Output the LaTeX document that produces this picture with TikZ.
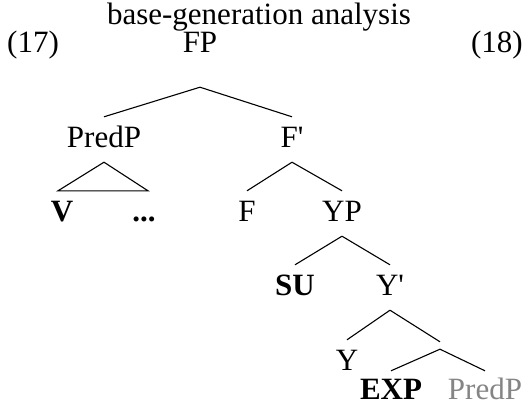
\documentclass[tikz,border=0pt]{standalone}
\usepackage{fontspec}
\setmainfont{Liberation Serif}
\tikzset{
	tn/.style={anchor=base, font=\fontsize{31}{37}\selectfont, text height=21pt, text depth=6pt, inner xsep=0pt, inner ysep=9pt},
	tb/.style={tn, font=\fontsize{31}{37}\selectfont\bfseries},
	leaf/.style={text height=28pt, text depth=0pt, inner ysep=0pt},
	branch/.style={line width=1.1pt}
}
\begin{document}
\begin{tikzpicture}[x=1pt, y=-1pt]
	\useasboundingbox (0, 0) rectangle (528, 407);
	\draw node[anchor=base, inner sep=0pt, font=\fontsize{31}{37}\selectfont] at (259, 24) (title) {base-generation analysis};
	\draw node[tn, anchor=base west] at (7, 52) (ex17) {(17)};
	\draw node[tn, anchor=base east] at (523, 52) (ex18) {(18)};
	\draw node[tn, text depth=26pt] at (200, 52) (fp) {FP};
	\draw node[tn] at (104, 147) (predp) {PredP};
	\draw node[tn] at (292, 147) (fbar) {F\textquotesingle};
	\draw node[tb] at (62, 221) (v) {V};
	\draw node[tb] at (144, 221) (dots) {...};
	\draw node[tn] at (247, 221) (f) {F};
	\draw node[tn] at (342, 221) (yp) {YP};
	\draw node[tb] at (295, 295) (su) {SU};
	\draw node[tn] at (390, 295) (ybar) {Y\textquotesingle};
	\draw node[tn] at (347, 370) (y) {Y};
	\draw node[inner sep=0pt, minimum height=7pt] at (440, 345.5) (ysub) {};
	\draw node[tb, leaf] at (391, 399) (exp) {EXP};
	\draw node[tn, leaf, text=black!48] at (485, 399) (predp2) {PredP};

	\draw [branch] (fp.south) -- (predp.north);
	\draw [branch] (fp.south) -- (fbar.north);
	\draw [branch] (predp.south) -- ([xshift=-4pt]v.north) -- ([xshift=4pt]dots.north) -- cycle;
	\draw [branch] (fbar.south) -- (f.north);
	\draw [branch] (fbar.south) -- (yp.north);
	\draw [branch] (yp.south) -- (su.north);
	\draw [branch] (yp.south) -- (ybar.north);
	\draw [branch] (ybar.south) -- (y.north);
	\draw [branch] (ybar.south) -- (ysub.north);
	\draw [branch] (ysub.south) -- (exp.north);
	\draw [branch] (ysub.south) -- (predp2.north);
\end{tikzpicture}
\end{document}
